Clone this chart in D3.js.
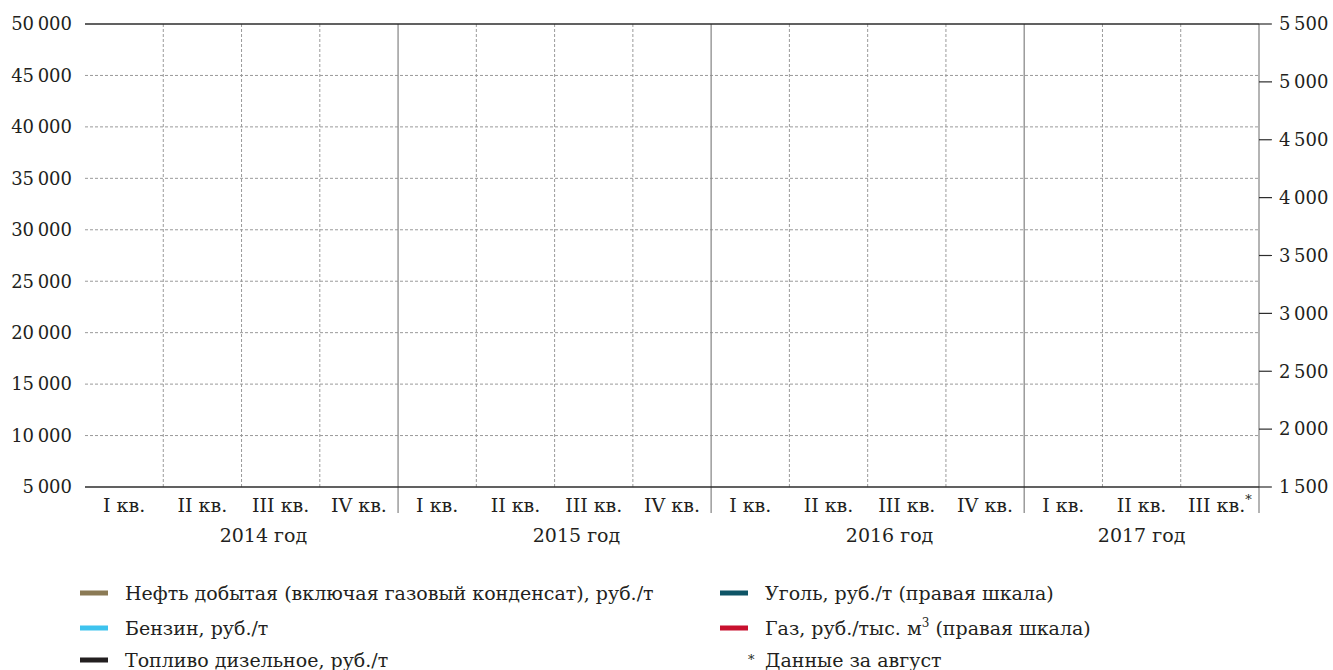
<!DOCTYPE html>
<html>
<head>
<meta charset="utf-8">
<script src="https://cdn.jsdelivr.net/npm/d3@7"></script>
<style>
  body { margin: 0; background: #fff; }
  text { font-family: "DejaVu Serif", "Liberation Serif", serif; fill: #231f20; }
</style>
</head>
<body>
<div id="chart"></div>
<script>
// Quarters and years on the x axis
const years = ["2014 год", "2015 год", "2016 год", "2017 год"];
const quartersPerYear = [4, 4, 4, 3];
const quarterNames = ["I кв.", "II кв.", "III кв.", "IV кв."];

// Axis ticks
const leftTicks = [5000, 10000, 15000, 20000, 25000, 30000, 35000, 40000, 45000, 50000];
const rightTicks = [1500, 2000, 2500, 3000, 3500, 4000, 4500, 5000, 5500];

// Series (the reference shows no plotted values)
const seriesNames = [
  "Нефть добытая (включая газовый конденсат), руб./т",
  "Бензин, руб./т",
  "Топливо дизельное, руб./т",
  "Уголь, руб./т (правая шкала)",
  "Газ, руб./тыс. м³ (правая шкала)"
];
const seriesAxis = ["left", "left", "left", "right", "right"];
const seriesColors = ["#8b7a55", "#3ec3ee", "#231f20", "#0e5466", "#c8102e"];
const seriesValues = [[], [], [], [], []];

const footnote = "Данные за август";

function renderChart(containerId) {
  const W = 1333, H = 670;
  const margin = { top: 24, right: 74, bottom: 183, left: 85 };
  const width = W - margin.left - margin.right;
  const height = H - margin.top - margin.bottom;

  const svg = d3.select("#" + containerId)
    .append("svg")
    .attr("width", W)
    .attr("height", H);

  const g = svg.append("g")
    .attr("transform", `translate(${margin.left},${margin.top})`);

  // build quarter list
  const quarters = [];
  years.forEach((y, yi) => {
    for (let q = 0; q < quartersPerYear[yi]; q++) {
      quarters.push({ key: y + q, year: yi, q: q, label: quarterNames[q] });
    }
  });
  quarters[quarters.length - 1].star = true;

  const x = d3.scaleBand()
    .domain(quarters.map(d => d.key))
    .range([0, width]);

  const yL = d3.scaleLinear().domain([5000, 50000]).range([height, 0]);
  const yR = d3.scaleLinear().domain([1500, 5500]).range([height, 0]);

  const fmt = v => d3.format(",")(v).replace(/,/g, "\u2009");

  // horizontal dashed grid
  g.append("g")
    .selectAll("line")
    .data(leftTicks.slice(1, -1))
    .join("line")
    .attr("x1", 0).attr("x2", width)
    .attr("y1", d => yL(d)).attr("y2", d => yL(d))
    .attr("stroke", "#9a9a9a")
    .attr("stroke-width", 1)
    .attr("stroke-dasharray", "3,2");

  // vertical lines between quarters
  const bounds = [];
  let acc = 0;
  quartersPerYear.forEach((n, yi) => {
    for (let q = 1; q < n; q++) bounds.push({ i: acc + q, solid: false });
    acc += n;
    bounds.push({ i: acc, solid: true });
  });

  g.append("g")
    .selectAll("line")
    .data(bounds)
    .join("line")
    .attr("x1", d => d.i * x.bandwidth())
    .attr("x2", d => d.i * x.bandwidth())
    .attr("y1", 0)
    .attr("y2", d => d.solid ? height + 26 : height)
    .attr("stroke", d => d.solid ? "#8c8c8c" : "#9a9a9a")
    .attr("stroke-width", d => d.solid ? 1.3 : 1)
    .attr("stroke-dasharray", d => d.solid ? null : "3,2");

  // top and bottom frame lines
  g.append("line")
    .attr("x1", 0).attr("x2", width)
    .attr("y1", 0).attr("y2", 0)
    .attr("stroke", "#2d2d2d").attr("stroke-width", 1.5);
  g.append("line")
    .attr("x1", 0).attr("x2", width)
    .attr("y1", height).attr("y2", height)
    .attr("stroke", "#2d2d2d").attr("stroke-width", 1.5);

  // left axis labels
  g.append("g")
    .selectAll("text")
    .data(leftTicks)
    .join("text")
    .attr("x", -13)
    .attr("y", d => yL(d))
    .attr("dy", "0.35em")
    .attr("text-anchor", "end")
    .attr("font-size", "18px")
    .text(fmt);

  // right axis ticks + labels
  const rg = g.append("g").attr("transform", `translate(${width},0)`);
  rg.selectAll("line")
    .data(rightTicks)
    .join("line")
    .attr("x1", 0).attr("x2", 13)
    .attr("y1", d => yR(d)).attr("y2", d => yR(d))
    .attr("stroke", "#2d2d2d").attr("stroke-width", 1.2);
  rg.selectAll("text")
    .data(rightTicks)
    .join("text")
    .attr("x", 20)
    .attr("y", d => yR(d))
    .attr("dy", "0.35em")
    .attr("font-size", "18px")
    .text(fmt);

  // series lines (none have visible values in the reference)
  seriesValues.forEach((vals, si) => {
    const ys = seriesAxis[si] === "left" ? yL : yR;
    const line = d3.line()
      .defined(d => d != null)
      .x((d, i) => x(quarters[i].key) + x.bandwidth() / 2)
      .y(d => ys(d));
    if (vals.length) {
      g.append("path")
        .datum(vals)
        .attr("fill", "none")
        .attr("stroke", seriesColors[si])
        .attr("stroke-width", 3)
        .attr("d", line);
    }
  });

  // quarter labels
  const ql = g.append("g")
    .selectAll("text")
    .data(quarters)
    .join("text")
    .attr("x", d => x(d.key) + x.bandwidth() / 2)
    .attr("y", height + 25)
    .attr("text-anchor", "middle")
    .attr("font-size", "19px");
  ql.text(d => d.label);
  ql.filter(d => d.star)
    .append("tspan")
    .attr("dy", "-8")
    .attr("font-size", "13px")
    .text("*");

  // year labels
  let start = 0;
  years.forEach((y, yi) => {
    const n = quartersPerYear[yi];
    const shift = n === 4 ? 0.28 : 0;
    const cx = (start + n / 2 + shift) * x.bandwidth();
    g.append("text")
      .attr("x", cx)
      .attr("y", height + 55)
      .attr("text-anchor", "middle")
      .attr("font-size", "19px")
      .text(y);
    start += n;
  });

  // legend
  const legend = svg.append("g").attr("class", "legend");
  const colX = [80, 720];
  const rowY = [593, 628, 660];
  const fs = 19;
  seriesNames.forEach((name, i) => {
    const col = i < 3 ? 0 : 1;
    const row = i < 3 ? i : i - 3;
    const lg = legend.append("g")
      .attr("transform", `translate(${colX[col]},${rowY[row]})`);
    lg.append("rect")
      .attr("x", 0).attr("y", -2.5)
      .attr("width", 28).attr("height", 5)
      .attr("fill", seriesColors[i]);
    const t = lg.append("text")
      .attr("x", 45)
      .attr("y", 7)
      .attr("font-size", fs + "px");
    if (name.includes("м³")) {
      const parts = name.split("м³");
      t.append("tspan").text(parts[0] + "м");
      t.append("tspan").attr("dy", "-8").attr("font-size", "12px").text("3");
      t.append("tspan").attr("dy", "8").text(" " + parts[1].trim());
    } else {
      t.text(name);
    }
  });
  const fn = legend.append("text")
    .attr("y", rowY[2] + 7)
    .attr("font-size", fs + "px");
  fn.append("tspan").attr("x", colX[1] + 28).attr("font-size", "13px").attr("dy", "-3").text("*");
  fn.append("tspan").attr("x", colX[1] + 45).attr("dy", "3").text(footnote);
}

renderChart("chart");
</script>
</body>
</html>
